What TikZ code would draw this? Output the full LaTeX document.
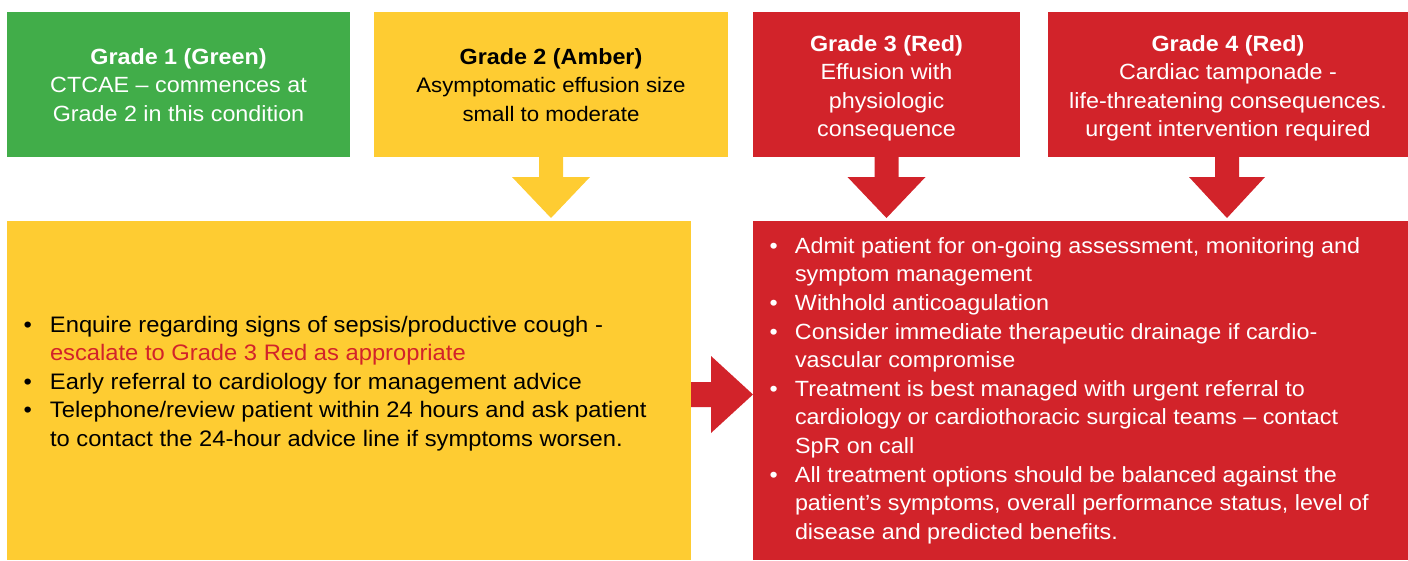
\documentclass[tikz,border=0pt]{standalone}
\usepackage{fontspec}
\setmainfont[FakeStretch=1.06]{Liberation Sans}
\usetikzlibrary{calc}
\definecolor{gradegreen}{RGB}{65,173,73}
\definecolor{gradeamber}{RGB}{254,204,50}
\definecolor{gradered}{RGB}{210,35,42}
\begin{document}
\begin{tikzpicture}[x=1pt,y=-1pt,
  every node/.style={font=\fontsize{22}{28.6}\selectfont, inner sep=0pt, outer sep=0pt},
  gradebox/.style={anchor=north west, minimum width=#1},
  toprow/.style={minimum height=145pt},
  botrow/.style={minimum height=339pt},
  boxtext/.style={anchor=base}
]
\useasboundingbox (0,0) rectangle (1408,560);

% top boxes
\node[gradebox=343pt, toprow, fill=gradegreen] (g1) at (7,12) {};
\node[gradebox=354pt, toprow, fill=gradeamber] (g2) at (374,12) {};
\node[gradebox=267pt, toprow, fill=gradered]   (g3) at (753,12) {};
\node[gradebox=360pt, toprow, fill=gradered]   (g4) at (1048,12) {};

% bottom boxes
\node[gradebox=684pt, botrow, fill=gradeamber] (b2) at (7,221) {};
\node[gradebox=655pt, botrow, fill=gradered]   (b3) at (753,221) {};

% top texts
\node[boxtext, text=white] (g1t) at ($(g1.north)+(0,52)$)
  {\begin{tabular}[t]{@{}c@{}}\textbf{Grade 1 (Green)}\\CTCAE – commences at\\Grade 2 in this condition\end{tabular}};
\node[boxtext, text=black] (g2t) at ($(g2.north)+(0,52)$)
  {\begin{tabular}[t]{@{}c@{}}\textbf{Grade 2 (Amber)}\\{\fontsize{21}{28.6}\selectfont Asymptomatic effusion size}\\{\fontsize{21}{28.6}\selectfont small to moderate}\end{tabular}};
\node[boxtext, text=white] (g3t) at ($(g3.north)+(0,39)$)
  {\begin{tabular}[t]{@{}c@{}}\textbf{Grade 3 (Red)}\\Effusion with\\physiologic\\consequence\end{tabular}};
\node[boxtext, text=white] (g4t) at ($(g4.north)+(0,39)$)
  {\begin{tabular}[t]{@{}c@{}}\textbf{Grade 4 (Red)}\\Cardiac tamponade -\\life-threatening consequences.\\urgent intervention required\end{tabular}};

% bottom texts
\node[anchor=base west, text=black, font=\fontsize{22.4}{28.6}\selectfont] (b2t) at ($(b2.north west)+(16.5,111)$)
  {\begin{tabular}[t]{@{}p{26.5pt}@{}l@{}}
  • & Enquire regarding signs of sepsis/productive cough -\\
    & \textcolor{gradered}{escalate to Grade 3 Red as appropriate}\\
  • & Early referral to cardiology for management advice\\
  • & Telephone/review patient within 24 hours and ask patient\\
    & to contact the 24-hour advice line if symptoms worsen.
  \end{tabular}};
\node[anchor=base west, text=white] (b3t) at ($(b3.north west)+(16.5,32.3)$)
  {\begin{tabular}[t]{@{}p{25.5pt}@{}l@{}}
  • & Admit patient for on-going assessment, monitoring and\\
    & symptom management\\
  • & Withhold anticoagulation\\
  • & Consider immediate therapeutic drainage if cardio-\\
    & vascular compromise\\
  • & Treatment is best managed with urgent referral to\\
    & cardiology or cardiothoracic surgical teams – contact\\
    & SpR on call\\
  • & All treatment options should be balanced against the\\
    & patient’s symptoms, overall performance status, level of\\
    & disease and predicted benefits.
  \end{tabular}};

% block arrows (connectors)
\fill[gradeamber] ($(g2.south)+(-12,0)$) -- ++(0,20) -- ++(-27,0)
  -- ($(g2.south |- b2.north)+(0,-3)$) -- ($(g2.south)+(39,20)$) -- ++(-27,0) -- ++(0,-20) -- cycle;
\fill[gradered] ($(g3.south)+(-12,0)$) -- ++(0,20) -- ++(-27,0)
  -- ($(g3.south |- b3.north)+(0,-3)$) -- ($(g3.south)+(39,20)$) -- ++(-27,0) -- ++(0,-20) -- cycle;
\fill[gradered] ($(g4.south)+(-13,0)$) -- ++(0,20) -- ++(-26,0)
  -- ($(g4.south |- b3.north)+(-1,-3)$) -- ($(g4.south)+(37,20)$) -- ++(-26,0) -- ++(0,-20) -- cycle;
\fill[gradered] ($(b2.east)+(0,-8.5)$) -- ++(20,0) -- ++(0,-26)
  -- ($(b3.west)+(0,4)$) -- ($(b2.east)+(20,42.5)$) -- ++(0,-26) -- ++(-20,0) -- cycle;
\end{tikzpicture}
\end{document}
